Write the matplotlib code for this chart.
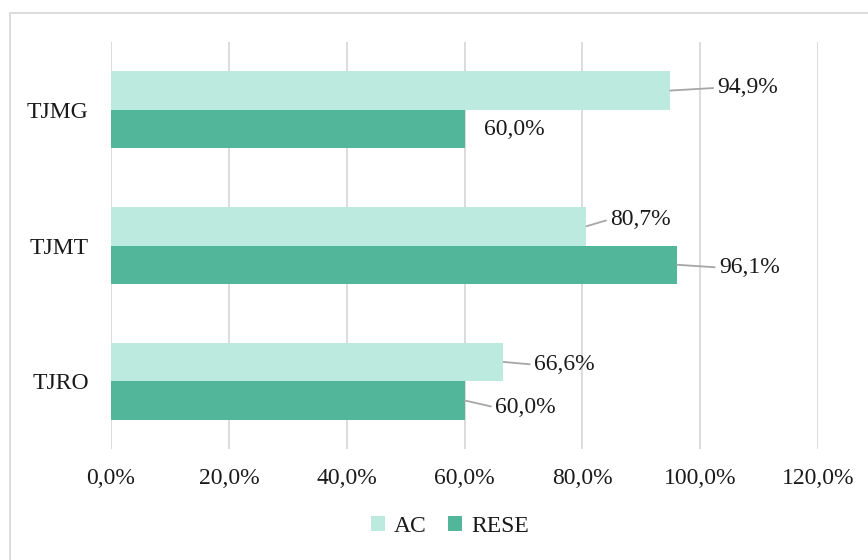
import matplotlib
matplotlib.use("Agg")
import matplotlib.pyplot as plt
from matplotlib.patches import Rectangle
import numpy as np

plt.rcParams['font.family'] = ['Liberation Serif', 'DejaVu Serif']

categories = ['TJRO', 'TJMT', 'TJMG']
ac_values = [66.6, 80.7, 94.9]
rese_values = [60.0, 96.1, 60.0]
tick_values = [0, 20, 40, 60, 80, 100, 120]
tick_labels = ['0,0%', '20,0%', '40,0%', '60,0%', '80,0%', '100,0%', '120,0%']

# label offsets (points) and whether a leader line is drawn
ac_offsets = [(22, -2, True), (17, 5, True), (34, 2, True)]
rese_offsets = [(22, -5, True), (30, -2, True), (14, 0, False)]

ac_color = '#BDEADF'
rese_color = '#52B69B'
text_color = '#1a1a1a'
fs = 17

fig = plt.figure(figsize=(8.68, 5.6), dpi=100)
ax = fig.add_axes([111 / 868, 1 - 449 / 560, 707 / 868, 407 / 560])

y = np.arange(len(categories))
h = 0.284
ax.barh(y + h / 2, ac_values, height=h, color=ac_color, label='AC', zorder=3)
ax.barh(y - h / 2, rese_values, height=h, color=rese_color, label='RESE', zorder=3)

def label(vals, offs, dy):
    for i, (v, (ox, oy, line)) in enumerate(zip(vals, offs)):
        txt = f'{v:.1f}%'.replace('.', ',')
        kw = {}
        if line:
            kw['arrowprops'] = dict(arrowstyle='-', color='#A6A6A6', lw=1.3,
                                    shrinkA=1, shrinkB=0, relpos=(0, 0.5))
        ax.annotate(txt, xy=(v, i + dy), xytext=(ox, oy), textcoords='offset points',
                    ha='left', va='center', fontsize=fs, color=text_color, **kw)

label(ac_values, ac_offsets, h / 2)
label(rese_values, rese_offsets, -h / 2)

ax.set_xlim(0, 120)
ax.set_ylim(-0.5, 2.5)
ax.set_xticks(tick_values)
ax.set_xticklabels(tick_labels)
ax.set_yticks(y)
ax.set_yticklabels(categories)
ax.tick_params(axis='both', length=0, labelsize=fs, colors=text_color)
ax.tick_params(axis='x', pad=14)
ax.tick_params(axis='y', pad=16)
ax.grid(axis='x', color='#D9D9D9', lw=1.3, zorder=0)
ax.set_axisbelow(True)
for s in ax.spines.values():
    s.set_visible(False)

fig.legend(loc='center', bbox_to_anchor=(450 / 868, 1 - 526 / 560), ncol=2, frameon=False,
           fontsize=fs, handlelength=0.6, handleheight=0.6, handletextpad=0.4,
           columnspacing=0.9, labelcolor=text_color)

fig.patches.append(Rectangle((10 / 868, -0.1), 1.2, 1.1 - 13 / 560, transform=fig.transFigure,
                             fill=False, edgecolor='#D9D9D9', lw=1.3, clip_on=False))

fig.savefig('out.png', dpi=100)
